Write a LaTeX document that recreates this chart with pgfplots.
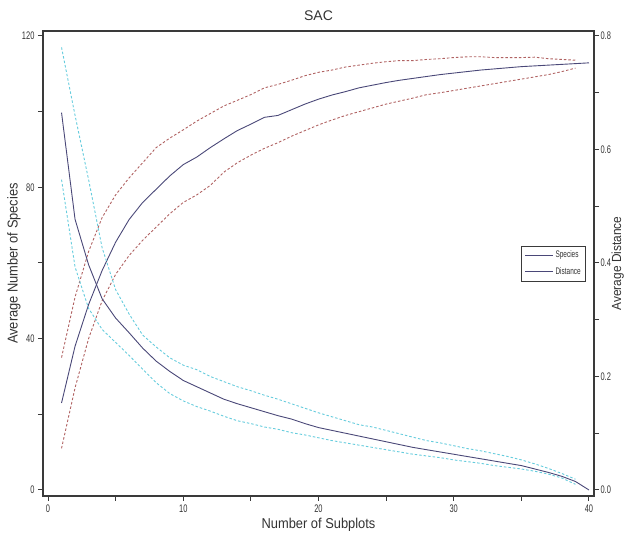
\documentclass[border=0pt]{standalone}
\usepackage{fontspec}
\setmainfont{Liberation Sans}
\newfontfamily\narrowfont[FakeStretch=0.68]{Liberation Sans}
\newfontfamily\midfont[FakeStretch=0.9]{Liberation Sans}
\usepackage{pgfplots}
\usepackage{pgfplotstable}
\pgfplotsset{compat=1.18}

\definecolor{solidc}{HTML}{4A4878}
\definecolor{redc}{HTML}{B06262}
\definecolor{cyanc}{HTML}{66CCDD}
\definecolor{framec}{HTML}{3A3A3A}
\definecolor{textc}{HTML}{333333}

\pgfplotstableread{
x mean up lo
1 23 35 11
2 38 51 27
3 49 63 40
4 58 72 50
5 65.5 78 57
6 71.5 82.5 62
7 76 86.5 66
8 79.5 90.5 69.5
9 83 93 73
10 86 95.2 76
11 88 97.5 78
12 90.5 99.5 80.5
13 92.8 101.5 84
14 95 103 86.5
15 96.7 104.5 88.5
16 98.5 106.3 90.3
17 99 107.2 91.8
18 100.5 108.3 93.5
19 102 109.5 95
20 103.3 110.4 96.5
21 104.4 111 97.8
22 105.3 111.8 99
23 106.3 112.3 100
24 107 112.8 101
25 107.7 113.2 102
26 108.3 113.5 102.8
27 108.8 113.5 103.6
28 109.3 113.8 104.5
29 109.8 114 105
30 110.2 114.3 105.6
31 110.6 114.5 106.2
32 111 114.5 106.8
33 111.3 114.3 107.4
34 111.6 114.3 108
35 111.9 114.3 108.6
36 112.1 114.4 109.2
37 112.3 114 109.8
38 112.5 113.8 110.6
39 112.7 113.6 111.5
40 112.9 nan nan
}\species

\pgfplotstableread{
x mean up lo
1 0.665 0.780 0.547
2 0.477 0.660 0.393
3 0.397 0.547 0.320
4 0.337 0.427 0.283
5 0.303 0.353 0.260
6 0.277 0.310 0.237
7 0.250 0.273 0.213
8 0.227 0.252 0.189
9 0.209 0.233 0.170
10 0.193 0.220 0.157
11 0.182 0.212 0.147
12 0.171 0.200 0.139
13 0.160 0.191 0.130
14 0.152 0.182 0.122
15 0.145 0.175 0.117
16 0.138 0.167 0.111
17 0.131 0.160 0.107
18 0.125 0.152 0.101
19 0.117 0.144 0.097
20 0.110 0.136 0.092
21 0.105 0.129 0.087
22 0.100 0.122 0.083
23 0.095 0.115 0.079
24 0.090 0.111 0.075
25 0.085 0.105 0.071
26 0.080 0.099 0.067
27 0.075 0.093 0.063
28 0.071 0.087 0.060
29 0.067 0.083 0.057
30 0.063 0.078 0.053
31 0.059 0.073 0.050
32 0.055 0.069 0.047
33 0.051 0.064 0.043
34 0.047 0.059 0.040
35 0.043 0.053 0.037
36 0.037 0.046 0.033
37 0.031 0.038 0.028
38 0.024 0.029 0.021
39 0.015 0.019 0.010
40 0.000 nan nan
}\distance

\pgfplotsset{
  common/.style={
    scale only axis, width=551pt, height=465pt,
    xmin=-0.37, xmax=40.37,
    tick align=outside,
    major tick length=5pt, minor tick length=5pt,
    every tick/.style={framec, line width=1pt},
    tick label style={font=\narrowfont\fontsize{11}{11}\selectfont, text=textc},
    /pgf/number format/assume math mode=true,
    label style={font=\midfont\fontsize{14.3}{14.3}\selectfont, text=textc},
  },
  dashes/.style={line width=0.9pt, dash pattern=on 2.5pt off 2pt},
}

\begin{document}
\begin{tikzpicture}
\begin{axis}[common, name=ax1,
  axis line style={framec, line width=1.4pt},
  ymin=-1.586, ymax=121.32,
  xtick={0,10,20,30,40}, minor xtick={5,15,25,35},
  ytick={0,40,80,120}, minor ytick={20,60,100},
  xtick pos=bottom, ytick pos=left,
  xlabel={Number of Subplots},
  ylabel={Average Number of Species},
  xlabel style={at={(axis description cs:0.5,0)}, anchor=base, yshift=-33pt},
  ylabel style={at={(axis description cs:-0.0526,0.5)}, anchor=center, rotate=0},
  title={SAC},
  title style={at={(axis description cs:0.5,1)}, anchor=base, yshift=4pt,
    font=\fontsize{14}{14}\selectfont, text=textc},
]
\addplot[redc, dashes] table[x=x, y=up] {\species};
\addplot[redc, dashes] table[x=x, y=lo] {\species};
\addplot[solidc, line width=0.9pt] table[x=x, y=mean] {\species};
\end{axis}
\begin{axis}[common,
  axis x line=none,
  axis y line*=right,
  axis line style={framec, line width=1.4pt},
  ymin=-0.010573, ymax=0.80881,
  ytick={0,0.2,0.4,0.6,0.8}, minor ytick={0.1,0.3,0.5,0.7},
  yticklabel style={xshift=-2pt, /pgf/number format/fixed, /pgf/number format/fixed zerofill, /pgf/number format/precision=1},
  ylabel={Average Distance},
  ylabel style={at={(axis description cs:1.049,0.5)}, anchor=base, rotate=0,
    inner sep=0pt, font=\midfont\fontsize{13.2}{13.2}\selectfont},
  legend style={at={(axis description cs:0.9855,0.5)}, anchor=east,
    draw=framec, line width=0.6pt, fill=white,
    font=\narrowfont\fontsize{9.5}{9.5}\selectfont, text=textc,
    inner xsep=3pt, inner ysep=3pt, row sep=4pt},
  legend cell align=left,
  legend image code/.code={\draw[#1, line width=0.9pt] (0pt,0pt) -- (28pt,0pt);},
]
\addlegendimage{solidc, line width=0.9pt}
\addlegendentry{Species}
\addplot[cyanc, dashes, forget plot] table[x=x, y=up] {\distance};
\addplot[cyanc, dashes, forget plot] table[x=x, y=lo] {\distance};
\addplot[solidc, line width=0.9pt] table[x=x, y=mean] {\distance};
\addlegendentry{Distance}
\end{axis}
\pgfresetboundingbox
\path ([shift={(-43pt,-42pt)}]ax1.south west) rectangle ++(624pt,538pt);
\end{tikzpicture}
\end{document}
